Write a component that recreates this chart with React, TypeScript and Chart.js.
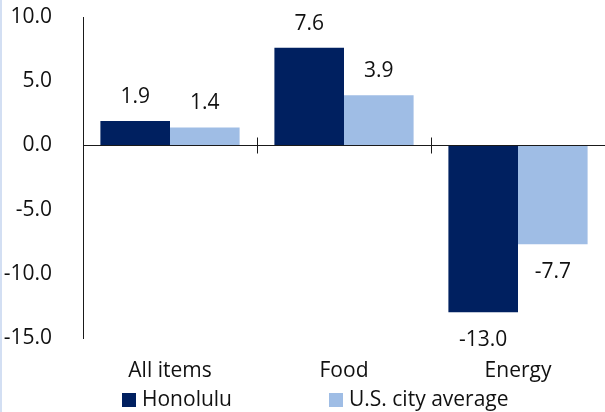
import React, { useEffect, useRef } from "react";
import { Chart, registerables } from "chart.js";

Chart.register(...registerables);

const categories = ["All items", "Food", "Energy"];
const seriesNames = ["Honolulu", "U.S. city average"];
const honolulu = [1.9, 7.6, -13.0];
const usAverage = [1.4, 3.9, -7.7];
const seriesColors = ["#002060", "#9FBDE5"];
const yTicks = [-15, -10, -5, 0, 5, 10];

const FONT = "'Open Sans', sans-serif";
const FONT_SIZE = 21;

const zeroLinePlugin = {
  id: "zeroLine",
  afterDatasetsDraw(chart: any) {
    const { ctx, chartArea, scales } = chart;
    const x = scales.x;
    const y = scales.y;
    const y0 = Math.round(y.getPixelForValue(0)) + 0.5;
    ctx.save();
    ctx.strokeStyle = "#1a1a1a";
    ctx.lineWidth = 1;
    ctx.beginPath();
    ctx.moveTo(chartArea.left, y0);
    ctx.lineTo(chartArea.right, y0);
    const half = (x.getPixelForValue(1) - x.getPixelForValue(0)) / 2;
    for (let i = 0; i <= categories.length; i++) {
      const px = Math.round(x.getPixelForValue(i) - half) + 0.5;
      ctx.moveTo(px, y0 - 8);
      ctx.lineTo(px, y0 + 8);
    }
    ctx.stroke();
    ctx.restore();
  },
};

const dataLabelPlugin = {
  id: "dataLabels",
  afterDatasetsDraw(chart: any) {
    const { ctx } = chart;
    ctx.save();
    ctx.font = `${FONT_SIZE}px ${FONT}`;
    ctx.fillStyle = "#111";
    ctx.textAlign = "center";
    ctx.textBaseline = "middle";
    chart.data.datasets.forEach((ds: any, di: number) => {
      const meta = chart.getDatasetMeta(di);
      meta.data.forEach((el: any, i: number) => {
        const v = ds.data[i];
        const ty = v >= 0 ? el.y - 24 : el.y + 28;
        ctx.fillText(v.toFixed(1), el.x, ty);
      });
    });
    ctx.restore();
  },
};

const legendPlugin = {
  id: "customLegend",
  afterDraw(chart: any) {
    const { ctx } = chart;
    const starts = [122, 329];
    const cy = 400;
    ctx.save();
    ctx.font = `${FONT_SIZE}px ${FONT}`;
    ctx.textBaseline = "middle";
    ctx.textAlign = "left";
    seriesNames.forEach((name, i) => {
      ctx.fillStyle = seriesColors[i];
      ctx.fillRect(starts[i], cy - 7, 14, 14);
      ctx.fillStyle = "#111";
      ctx.fillText(name, starts[i] + 20, cy);
    });
    ctx.restore();
  },
};

const noPad = (s: any) => {
  s.paddingTop = 0;
  s.paddingBottom = 0;
  s.paddingLeft = 0;
  s.paddingRight = 0;
};

export default function App() {
  const ref = useRef<HTMLCanvasElement>(null);

  useEffect(() => {
    if (!ref.current) return;
    const chart = new Chart(ref.current, {
      type: "bar",
      data: {
        labels: categories,
        datasets: [
          {
            label: seriesNames[0],
            data: honolulu,
            backgroundColor: seriesColors[0],
            categoryPercentage: 0.8,
            barPercentage: 1.0,
          },
          {
            label: seriesNames[1],
            data: usAverage,
            backgroundColor: seriesColors[1],
            categoryPercentage: 0.8,
            barPercentage: 1.0,
          },
        ],
      },
      options: {
        animation: false,
        responsive: false,
        maintainAspectRatio: false,
        layout: { padding: { top: 17, right: 0, left: 0, bottom: 0 } },
        plugins: {
          legend: { display: false },
          tooltip: { enabled: false },
        },
        scales: {
          x: {
            grid: { display: false },
            border: { display: false },
            ticks: {
              color: "#111",
              font: { family: FONT, size: FONT_SIZE },
              padding: 12,
              maxRotation: 0,
            },
            afterFit: (s: any) => {
              s.height = 74;
              noPad(s);
            },
          },
          y: {
            min: -15,
            max: 10,
            afterBuildTicks: (s: any) => {
              s.ticks = yTicks.map((v) => ({ value: v }));
            },
            grid: { display: false },
            border: { display: true, color: "#1a1a1a", width: 1 },
            ticks: {
              color: "#111",
              font: { family: FONT, size: FONT_SIZE },
              padding: 23,
              callback: (v: any) => Number(v).toFixed(1),
            },
            afterFit: (s: any) => {
              s.width = 83;
              noPad(s);
            },
          },
        },
      },
      plugins: [zeroLinePlugin, dataLabelPlugin, legendPlugin],
    });
    return () => chart.destroy();
  }, []);

  return (
    <div
      style={{
        position: "fixed",
        left: 0,
        top: 0,
        width: 605,
        height: 412,
        background: "#fff",
        overflow: "hidden",
      }}
    >
      <canvas ref={ref} width={605} height={412} style={{ display: "block" }} />
      <div
        style={{
          position: "absolute",
          left: 0,
          top: 0,
          width: 2,
          height: 412,
          background: "#D3DFF3",
        }}
      />
    </div>
  );
}
